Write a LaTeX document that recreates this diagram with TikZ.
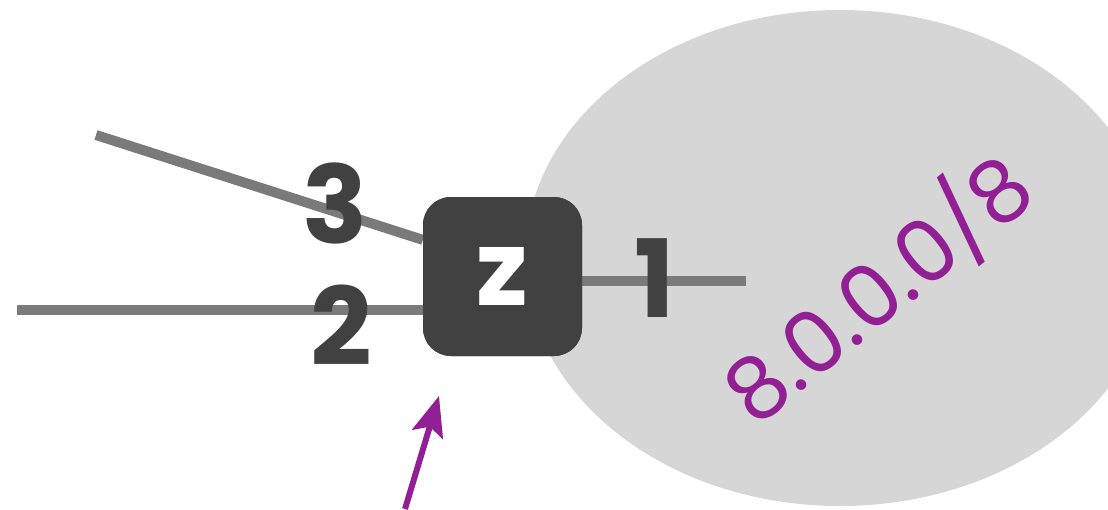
\documentclass[tikz,border=0pt]{standalone}
\usepackage{fontspec}
\setmainfont{Poppins}
\usetikzlibrary{arrows.meta,calc}
\definecolor{boxgray}{HTML}{414141}
\definecolor{linegray}{HTML}{7A7A7A}
\definecolor{cloud}{HTML}{D6D6D6}
\definecolor{purp}{HTML}{921F94}
\tikzset{
  wire/.style={draw=linegray, line width=10pt},
  portlabel/.style={text=boxgray, font=\bfseries\fontsize{108}{108}\selectfont, inner sep=0pt},
  router/.style={fill=boxgray, rounded corners=28pt, minimum width=159pt, minimum height=159pt, inner sep=0pt,
    text=white, font=\bfseries\fontsize{104}{104}\selectfont},
  pointer/.style={draw=purp, line width=6pt, -{Stealth[length=40pt,width=32pt,inset=8pt]}},
}
\begin{document}
\begin{tikzpicture}[x=1pt,y=-1pt]
\useasboundingbox (0,0) rectangle (1108,509);
\fill[cloud] (840,258) ellipse [x radius=315pt, y radius=248pt];
\coordinate (zc) at (502.5,276.5);
\coordinate (l3) at (96,135);
\coordinate (l2) at (17,310);
\coordinate (l1) at (746,281);
\node[router] (z) at (zc) {\raisebox{-13pt}{z}};
\path[wire] (l3) -- ($(z.north west)!0.27!(z.south west)$);
\path[wire] (l2) -- (z.west |- l2);
\path[wire] (l1) -- (z.east |- l1);
\node[router] (ztop) at (z) {\raisebox{-13pt}{z}};
\node[portlabel] (n3) at (335,203) {3};
\node[portlabel] (n2) at (341,325) {2};
\node[portlabel] (n1) at (655,278) {1};
\node[text=purp, font=\fontsize{86}{86}\selectfont, rotate=39, inner sep=0pt] (net) at (877,288) {8.0.0.0/8};
\coordinate (a0) at (405,509);
\coordinate (a1) at (439,396);
\draw[pointer] (a0) -- (a1);
\end{tikzpicture}
\end{document}
